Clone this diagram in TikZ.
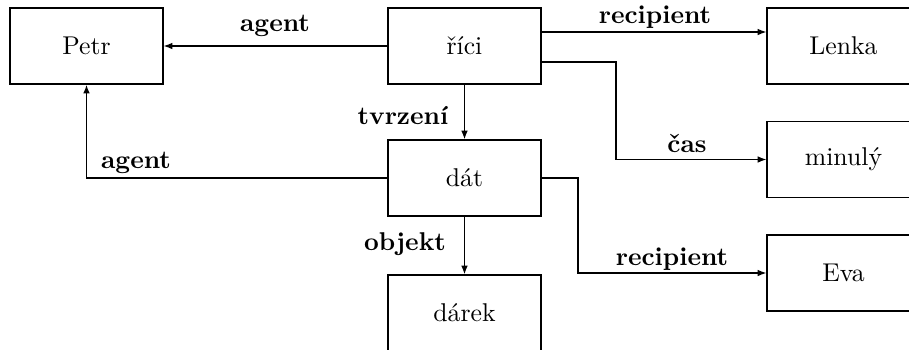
\documentclass[tikz,border=0pt]{standalone}
\usepackage{fontspec}
\usetikzlibrary{arrows.meta}
\begin{document}
\begin{tikzpicture}[x=0.389pt,y=-0.389pt,
  box/.style={draw,line width=0.5pt,minimum width=59.5pt,minimum height=29.6pt,inner sep=0pt},
  conn/.style={line width=0.5pt,-{Latex[length=3.4pt,width=2.6pt]}},
  lab/.style={font=\bfseries,anchor=base,inner sep=0pt}]
\clip (0,0) rectangle (909,349);
\node[box] (petr) at (86.5,46) {Petr};
\node[box] (rici) at (464.5,46) {říci};
\node[box] (lenka) at (843.5,46) {Lenka};
\node[box] (minuly) at (843.5,159.5) {minulý};
\node[box] (dat) at (464.5,178) {dát};
\node[box] (eva) at (843.5,273) {Eva};
\node[box] (darek) at (464.5,313) {dárek};
\coordinate (c1) at (616,62);
\coordinate (c2) at (578,178);
\draw[conn] (rici.west) -- (petr.east);
\draw[conn] (dat.west) -| (petr.south);
\draw[conn] (rici.south) -- (dat.north);
\draw[conn] (rici.east |- 0,32) -- (lenka.west |- 0,32);
\draw[conn] (rici.east |- c1) -- (c1) |- (minuly.west);
\draw[conn] (dat.east) -- (c2) |- (eva.west);
\draw[conn] (dat.south) -- (darek.north);
\node[lab] (l1) at (275,31) {agent};
\node[lab] (l2) at (136,168) {agent};
\node[lab] (l3) at (403,124) {tvrzení};
\node[lab] (l4) at (655,23) {recipient};
\node[lab] (l5) at (687,152) {čas};
\node[lab] (l6) at (672,265) {recipient};
\node[lab] (l7) at (405,250) {objekt};
\end{tikzpicture}
\end{document}
